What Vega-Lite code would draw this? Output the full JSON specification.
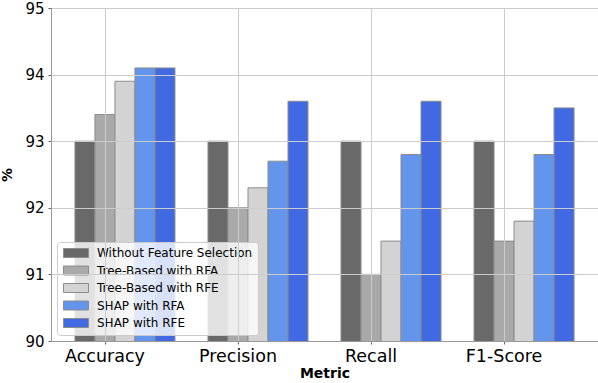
{
  "$schema": "https://vega.github.io/schema/vega-lite/v6.json",
  "width": 547,
  "height": 333,
  "autosize": {"type": "none"},
  "padding": {"left": 51, "top": 8, "right": 0, "bottom": 42},
  "config": {
    "font": "DejaVu Sans",
    "view": {"stroke": "#999", "strokeWidth": 1}
  },
  "data": {
    "values": [
      {"Metric": "Accuracy", "Method": "Without Feature Selection", "Value": 93.0},
      {"Metric": "Accuracy", "Method": "Tree-Based with RFA", "Value": 93.4},
      {"Metric": "Accuracy", "Method": "Tree-Based with RFE", "Value": 93.9},
      {"Metric": "Accuracy", "Method": "SHAP with RFA", "Value": 94.1},
      {"Metric": "Accuracy", "Method": "SHAP with RFE", "Value": 94.1},
      {"Metric": "Precision", "Method": "Without Feature Selection", "Value": 93.0},
      {"Metric": "Precision", "Method": "Tree-Based with RFA", "Value": 92.0},
      {"Metric": "Precision", "Method": "Tree-Based with RFE", "Value": 92.3},
      {"Metric": "Precision", "Method": "SHAP with RFA", "Value": 92.7},
      {"Metric": "Precision", "Method": "SHAP with RFE", "Value": 93.6},
      {"Metric": "Recall", "Method": "Without Feature Selection", "Value": 93.0},
      {"Metric": "Recall", "Method": "Tree-Based with RFA", "Value": 91.0},
      {"Metric": "Recall", "Method": "Tree-Based with RFE", "Value": 91.5},
      {"Metric": "Recall", "Method": "SHAP with RFA", "Value": 92.8},
      {"Metric": "Recall", "Method": "SHAP with RFE", "Value": 93.6},
      {"Metric": "F1-Score", "Method": "Without Feature Selection", "Value": 93.0},
      {"Metric": "F1-Score", "Method": "Tree-Based with RFA", "Value": 91.5},
      {"Metric": "F1-Score", "Method": "Tree-Based with RFE", "Value": 91.8},
      {"Metric": "F1-Score", "Method": "SHAP with RFA", "Value": 92.8},
      {"Metric": "F1-Score", "Method": "SHAP with RFE", "Value": 93.5}
    ]
  },
  "mark": {"type": "bar", "stroke": "#8c8c8c", "strokeWidth": 1, "clip": true},
  "encoding": {
    "x": {
      "field": "Metric",
      "type": "nominal",
      "sort": ["Accuracy", "Precision", "Recall", "F1-Score"],
      "scale": {"paddingInner": 0, "paddingOuter": 0.056},
      "axis": {
        "title": "Metric",
        "titleFontSize": 14,
        "titleFontWeight": "bold",
        "titleColor": "#000",
        "titlePadding": 2,
        "labelAngle": 0,
        "labelFontSize": 17.5,
        "labelColor": "#000",
        "labelPadding": 3,
        "labelOffset": -20,
        "bandPosition": 0.35,
        "grid": true,
        "gridColor": "#cccccc",
        "gridWidth": 1,
        "tickSize": 3,
        "tickColor": "#666",
        "domainColor": "#999",
        "zindex": 1
      }
    },
    "xOffset": {
      "field": "Method",
      "type": "nominal",
      "sort": ["Without Feature Selection", "Tree-Based with RFA", "Tree-Based with RFE", "SHAP with RFA", "SHAP with RFE"],
      "scale": {"paddingInner": 0, "paddingOuter": 0.825}
    },
    "y": {
      "field": "Value",
      "type": "quantitative",
      "scale": {"domain": [90, 95], "zero": false, "nice": false},
      "axis": {
        "title": "%",
        "titleFontSize": 14,
        "titleFontWeight": "bold",
        "titleColor": "#000",
        "titlePadding": 10,
        "values": [90, 91, 92, 93, 94, 95],
        "labelFontSize": 15,
        "labelColor": "#000",
        "labelPadding": 4,
        "grid": true,
        "gridColor": "#cccccc",
        "gridWidth": 1,
        "tickSize": 3,
        "tickColor": "#666",
        "domainColor": "#999",
        "zindex": 1
      }
    },
    "color": {
      "field": "Method",
      "type": "nominal",
      "sort": ["Without Feature Selection", "Tree-Based with RFA", "Tree-Based with RFE", "SHAP with RFA", "SHAP with RFE"],
      "scale": {
        "domain": ["Without Feature Selection", "Tree-Based with RFA", "Tree-Based with RFE", "SHAP with RFA", "SHAP with RFE"],
        "range": ["#696969", "#a9a9a9", "#d3d3d3", "#6495ed", "#4169e1"]
      },
      "legend": {
        "title": null,
        "orient": "bottom-left",
        "offset": 6,
        "fillColor": "rgba(255,255,255,0.8)",
        "strokeColor": "#cccccc",
        "cornerRadius": 3,
        "padding": 5,
        "symbolType": "M-2.5,-0.9 h5 v1.8 h-5 Z",
        "symbolSize": 100,
        "symbolOffset": 8,
        "symbolStrokeColor": "#8c8c8c",
        "symbolStrokeWidth": 1,
        "symbolOpacity": 1,
        "labelFontSize": 12,
        "labelColor": "#000",
        "labelOffset": 15,
        "labelLimit": 300,
        "rowPadding": 3.5
      }
    }
  }
}
